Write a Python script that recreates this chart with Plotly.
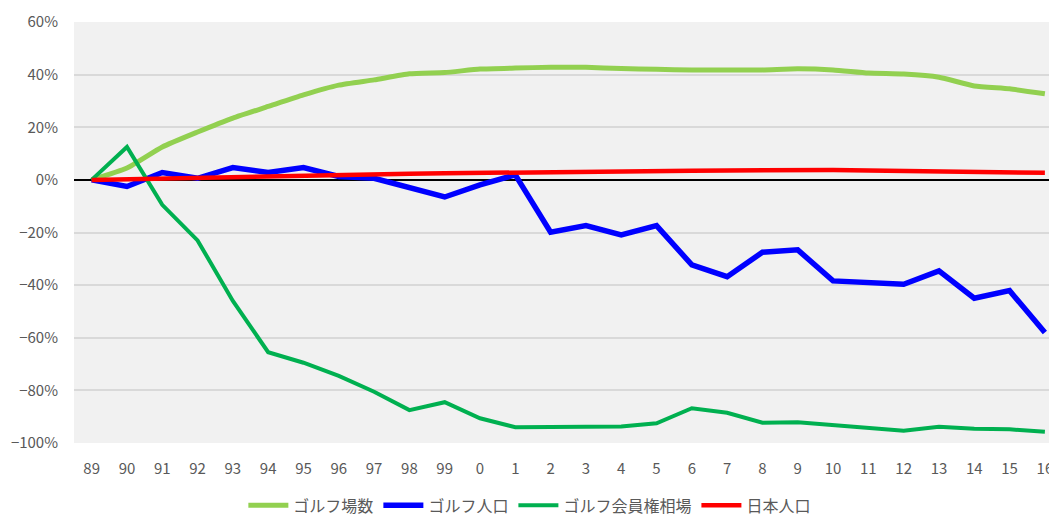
import plotly.graph_objects as go

# fiscal years, 1989 -> 2016 (two-digit labels as in the source)
years = ["89", "90", "91", "92", "93", "94", "95", "96", "97", "98", "99",
         "0", "1", "2", "3", "4", "5", "6", "7", "8", "9", "10",
         "11", "12", "13", "14", "15", "16"]

# change vs 1989, %
golf_courses = [0, 4.5, 12.5, 18.2, 23.5, 27.9, 32.3, 36.0, 38.0, 40.3, 40.8,
                42.1, 42.5, 42.8, 42.8, 42.3, 42.0, 41.8, 41.8, 41.8, 42.2, 41.8,
                40.6, 40.2, 39.0, 35.7, 34.6, 32.7]
golf_population = [0, -2.5, 2.8, 0.6, 4.7, 2.8, 4.7, 1.3, 0.6, -3.2, -6.5,
                   -1.9, 1.9, -19.9, -17.4, -20.9, -17.4, -32.3, -36.8, -27.5, -26.6, -38.4,
                   -39.0, -39.7, -34.6, -45.0, -42.1, -58.0]
membership_price = [0, 12.5, -9.5, -23.0, -46.0, -65.5, -69.5, -74.5, -80.5, -87.5, -84.5,
                    -90.6, -94.0, -94.0, -94.0, -93.7, -92.5, -86.8, -88.5, -92.3, -92.1, -93.2,
                    -94.4, -95.3, -93.8, -94.6, -94.8, -95.7]
japan_population = [0, 0.3, 0.6, 0.9, 1.2, 1.4, 1.6, 1.8, 2.0, 2.3, 2.5,
                    2.7, 2.9, 3.1, 3.3, 3.4, 3.4, 3.5, 3.6, 3.8, 3.7, 3.8,
                    3.6, 3.5, 3.2, 3.0, 2.8, 2.7]

series = [
    ("ゴルフ場数", golf_courses, "#92D050", 5, "spline"),
    ("ゴルフ人口", golf_population, "#0000FF", 5.5, "linear"),
    ("ゴルフ会員権相場", membership_price, "#00B050", 4, "linear"),
    ("日本人口", japan_population, "#FF0000", 4.5, "linear"),
]

fig = go.Figure()
for name, vals, color, width, shape in series:
    fig.add_trace(go.Scatter(
        x=years, y=vals, name=name, mode="lines",
        line=dict(color=color, width=width, shape=shape, smoothing=0.5),
    ))

font = dict(family="Noto Sans CJK JP, Noto Sans, sans-serif", size=15, color="#595959")

# page body adds an 8px offset, so margins are set a bit smaller
fig.update_layout(
    width=1057,
    height=517,
    margin=dict(l=66, r=0, t=14, b=82, autoexpand=False),
    paper_bgcolor="white",
    plot_bgcolor="#F1F1F1",
    font=font,
    showlegend=True,
    legend=dict(
        orientation="h", x=0.46, xanchor="center", y=-0.108, yanchor="top",
        font=dict(family=font["family"], size=16, color="#595959"), itemwidth=40,
    ),
    xaxis=dict(
        type="category",
        range=[-0.5, 27.57],
        automargin=False,
        showgrid=False,
        zeroline=False,
        ticks="",
        ticklabelstandoff=15,
        tickfont=font,
    ),
    yaxis=dict(
        range=[-100, 60],
        dtick=20,
        ticksuffix="%",
        automargin=False,
        showgrid=True,
        gridcolor="#D9D9D9",
        gridwidth=1.5,
        zeroline=True,
        zerolinecolor="black",
        zerolinewidth=2,
        ticks="",
        ticklabelstandoff=15,
        tickfont=font,
    ),
)

fig.write_html("out.html")
